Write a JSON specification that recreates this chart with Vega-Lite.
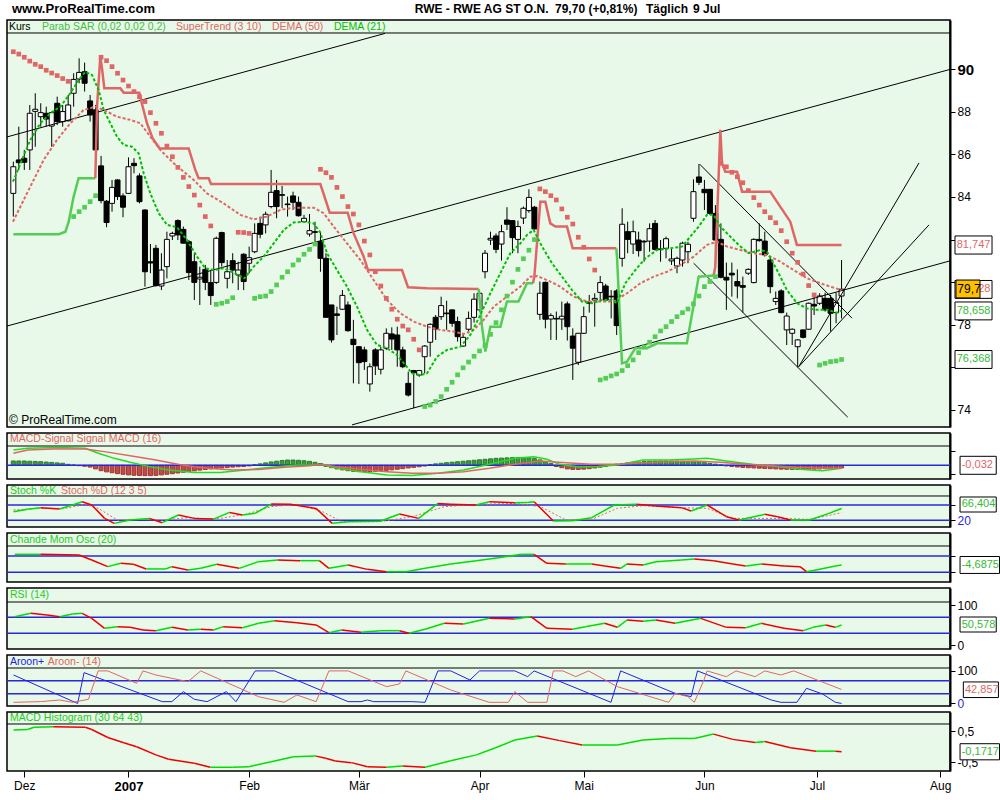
{
"$schema":"https://vega.github.io/schema/vega-lite/v6.json",
"padding":{"left":5,"top":2,"right":0,"bottom":0},
"bounds":"flush",
"spacing":6,
"background":"#ffffff",
"resolve":{"scale":{"color":"independent"}},
"config":{"view":{"fill":"#E9F9E9","stroke":"#000000","strokeWidth":1.5},"font":"Liberation Sans","axis":{"grid":false,"labelFont":"Liberation Sans","labelColor":"#000000","tickColor":"#000000","domainColor":"#000000","labelFontSize":12}},
"datasets":{
"c":[
{"i":-1,"o":84.17,"h":85.66,"l":83.08,"c":85.42},{"i":0,"o":85.74,"h":87.30,"l":85.27,"c":85.61},{"i":1,"o":85.82,"h":86.21,"l":85.27,"c":85.63},{"i":2,"o":86.21,"h":88.32,"l":85.27,"c":87.93},{"i":3,"o":88.02,"h":88.87,"l":86.36,"c":88.12},{"i":4,"o":87.77,"h":88.40,"l":87.30,"c":87.96},{"i":5,"o":87.93,"h":88.24,"l":87.30,"c":87.66},{"i":6,"o":87.33,"h":88.01,"l":86.36,"c":87.96},{"i":7,"o":88.40,"h":88.71,"l":87.38,"c":87.54},{"i":8,"o":87.54,"h":88.32,"l":87.30,"c":88.01},{"i":9,"o":87.58,"h":88.79,"l":87.54,"c":88.32},{"i":10,"o":88.87,"h":89.81,"l":88.24,"c":89.52},{"i":11,"o":89.54,"h":90.51,"l":89.34,"c":89.85},{"i":12,"o":89.88,"h":90.31,"l":88.95,"c":89.34},{"i":13,"o":88.51,"h":88.79,"l":87.54,"c":87.85},{"i":14,"o":88.09,"h":88.32,"l":86.21,"c":86.21},{"i":15,"o":85.46,"h":85.93,"l":83.70,"c":83.83},{"i":16,"o":83.80,"h":83.86,"l":82.58,"c":82.80},{"i":17,"o":83.70,"h":84.80,"l":83.31,"c":84.45},{"i":18,"o":84.80,"h":84.83,"l":83.86,"c":84.02},{"i":19,"o":84.05,"h":84.17,"l":83.05,"c":83.52},{"i":20,"o":84.17,"h":85.86,"l":84.14,"c":85.42},{"i":21,"o":85.58,"h":85.82,"l":85.11,"c":85.47},{"i":22,"o":84.99,"h":85.11,"l":83.70,"c":83.78},{"i":23,"o":83.39,"h":83.42,"l":79.79,"c":80.49},{"i":24,"o":80.96,"h":81.79,"l":80.42,"c":80.90},{"i":25,"o":81.59,"h":81.75,"l":79.79,"c":79.84},{"i":26,"o":79.82,"h":81.36,"l":79.63,"c":80.57},{"i":27,"o":80.73,"h":82.37,"l":80.18,"c":82.01},{"i":28,"o":82.17,"h":82.37,"l":81.98,"c":82.29},{"i":29,"o":82.89,"h":82.95,"l":81.98,"c":82.22},{"i":30,"o":82.48,"h":82.61,"l":81.83,"c":81.83},{"i":31,"o":81.90,"h":81.98,"l":80.10,"c":80.45},{"i":32,"o":80.96,"h":81.36,"l":79.16,"c":79.99},{"i":33,"o":80.15,"h":80.73,"l":78.93,"c":80.23},{"i":34,"o":80.60,"h":80.81,"l":79.63,"c":79.99},{"i":35,"o":79.98,"h":80.57,"l":78.93,"c":79.37},{"i":36,"o":79.99,"h":82.14,"l":79.92,"c":82.06},{"i":37,"o":82.33,"h":82.37,"l":80.73,"c":80.92},{"i":38,"o":80.18,"h":81.04,"l":79.71,"c":80.49},{"i":39,"o":81.01,"h":81.36,"l":79.95,"c":80.57},{"i":40,"o":80.34,"h":80.96,"l":79.63,"c":80.57},{"i":41,"o":81.31,"h":81.36,"l":79.63,"c":80.03},{"i":42,"o":80.89,"h":81.67,"l":80.42,"c":81.15},{"i":43,"o":81.43,"h":82.76,"l":81.36,"c":82.29},{"i":44,"o":82.76,"h":83.08,"l":82.06,"c":82.25},{"i":45,"o":82.69,"h":83.31,"l":82.29,"c":83.19},{"i":46,"o":83.55,"h":85.27,"l":83.47,"c":84.22},{"i":47,"o":84.30,"h":84.80,"l":83.00,"c":83.55},{"i":48,"o":84.11,"h":84.52,"l":83.47,"c":84.08},{"i":49,"o":83.67,"h":84.02,"l":83.08,"c":83.64},{"i":50,"o":84.05,"h":84.25,"l":83.39,"c":83.75},{"i":51,"o":83.75,"h":84.02,"l":83.08,"c":83.12},{"i":52,"o":82.84,"h":83.16,"l":82.80,"c":83.00},{"i":53,"o":82.26,"h":83.20,"l":82.14,"c":82.42},{"i":54,"o":82.37,"h":82.84,"l":81.90,"c":82.34},{"i":55,"o":81.90,"h":82.37,"l":80.49,"c":81.12},{"i":56,"o":81.12,"h":81.36,"l":78.35,"c":78.35},{"i":57,"o":78.93,"h":78.93,"l":77.16,"c":77.29},{"i":58,"o":78.51,"h":78.85,"l":77.52,"c":78.44},{"i":59,"o":78.73,"h":79.63,"l":78.70,"c":79.38},{"i":60,"o":78.93,"h":79.09,"l":77.68,"c":77.72},{"i":61,"o":77.32,"h":78.23,"l":75.25,"c":77.07},{"i":62,"o":76.97,"h":77.00,"l":75.22,"c":76.22},{"i":63,"o":76.82,"h":76.97,"l":75.88,"c":76.27},{"i":64,"o":75.22,"h":76.19,"l":74.86,"c":76.03},{"i":65,"o":76.82,"h":76.90,"l":75.64,"c":76.07},{"i":66,"o":75.91,"h":76.97,"l":75.67,"c":76.82},{"i":67,"o":76.90,"h":77.83,"l":76.82,"c":77.60},{"i":68,"o":77.57,"h":77.88,"l":76.82,"c":77.33},{"i":69,"o":77.52,"h":77.91,"l":76.03,"c":76.82},{"i":70,"o":76.82,"h":76.97,"l":75.96,"c":76.03},{"i":71,"o":75.25,"h":75.80,"l":74.63,"c":74.70},{"i":72,"o":75.85,"h":75.88,"l":74.08,"c":75.75},{"i":73,"o":75.64,"h":75.88,"l":75.56,"c":75.85},{"i":74,"o":76.50,"h":77.05,"l":75.72,"c":77.00},
{"i":75,"o":77.18,"h":78.07,"l":76.50,"c":78.02},{"i":76,"o":78.35,"h":78.46,"l":77.29,"c":77.80},{"i":77,"o":78.38,"h":79.32,"l":78.23,"c":78.90},{"i":78,"o":78.55,"h":79.13,"l":77.76,"c":78.52},{"i":79,"o":78.70,"h":78.70,"l":77.91,"c":78.07},{"i":80,"o":78.15,"h":78.38,"l":77.21,"c":77.44},{"i":81,"o":77.00,"h":77.60,"l":76.97,"c":77.41},{"i":82,"o":77.79,"h":78.62,"l":77.60,"c":78.30},{"i":83,"o":78.35,"h":79.48,"l":78.10,"c":79.20},{"i":84,"o":78.70,"h":79.67,"l":78.62,"c":79.48},{"i":85,"o":80.49,"h":81.51,"l":80.18,"c":81.36},{"i":86,"o":81.98,"h":82.37,"l":81.75,"c":82.06},{"i":87,"o":82.17,"h":82.29,"l":81.36,"c":81.54},{"i":88,"o":81.79,"h":82.69,"l":81.01,"c":82.37},{"i":89,"o":82.92,"h":83.52,"l":82.45,"c":82.72},{"i":90,"o":82.89,"h":82.92,"l":81.36,"c":82.09},{"i":91,"o":82.01,"h":82.89,"l":81.36,"c":82.61},{"i":92,"o":83.01,"h":83.55,"l":82.73,"c":83.47},{"i":93,"o":83.36,"h":84.36,"l":83.26,"c":83.98},{"i":94,"o":83.52,"h":83.58,"l":82.45,"c":82.50},{"i":95,"o":78.49,"h":80.03,"l":78.23,"c":79.48},{"i":96,"o":79.99,"h":80.03,"l":77.83,"c":78.26},{"i":97,"o":78.27,"h":78.54,"l":77.29,"c":78.43},{"i":98,"o":78.30,"h":78.62,"l":77.29,"c":78.27},{"i":99,"o":78.27,"h":79.09,"l":77.76,"c":78.40},{"i":100,"o":78.98,"h":79.09,"l":77.26,"c":77.91},{"i":101,"o":77.47,"h":77.83,"l":75.41,"c":76.90},{"i":102,"o":76.24,"h":77.60,"l":76.11,"c":77.60},{"i":103,"o":77.60,"h":78.85,"l":77.57,"c":78.38},{"i":104,"o":79.07,"h":79.40,"l":78.57,"c":79.01},{"i":105,"o":79.16,"h":79.48,"l":77.91,"c":79.24},{"i":106,"o":79.52,"h":80.29,"l":79.16,"c":79.98},{"i":107,"o":79.82,"h":79.92,"l":79.09,"c":79.16},{"i":108,"o":79.34,"h":79.63,"l":78.30,"c":79.31},{"i":109,"o":79.59,"h":79.67,"l":77.52,"c":77.96},{"i":110,"o":81.12,"h":83.47,"l":80.73,"c":82.72},{"i":111,"o":82.37,"h":82.84,"l":81.36,"c":82.01},{"i":112,"o":81.79,"h":82.89,"l":81.32,"c":82.37},{"i":113,"o":81.98,"h":82.37,"l":81.20,"c":81.48},{"i":114,"o":81.92,"h":81.98,"l":80.96,"c":81.89},{"i":115,"o":81.93,"h":82.76,"l":81.43,"c":82.51},{"i":116,"o":82.76,"h":82.92,"l":81.48,"c":81.54},{"i":117,"o":81.56,"h":81.98,"l":80.96,"c":81.53},{"i":118,"o":81.59,"h":82.14,"l":81.12,"c":82.04},{"i":119,"o":81.00,"h":81.59,"l":80.81,"c":81.09},{"i":120,"o":80.76,"h":81.20,"l":80.42,"c":81.12},{"i":121,"o":81.04,"h":81.90,"l":80.73,"c":81.83},{"i":122,"o":81.43,"h":81.90,"l":80.89,"c":81.78},{"i":123,"o":83.00,"h":84.83,"l":82.84,"c":84.25},{"i":124,"o":84.94,"h":85.55,"l":84.56,"c":84.69},{"i":125,"o":84.36,"h":84.80,"l":83.39,"c":84.20},{"i":126,"o":84.36,"h":84.36,"l":83.16,"c":83.23},{"i":127,"o":83.23,"h":83.62,"l":80.70,"c":81.98},{"i":128,"o":82.01,"h":82.76,"l":80.18,"c":80.23},{"i":129,"o":80.23,"h":80.92,"l":78.70,"c":80.10},{"i":130,"o":80.42,"h":80.92,"l":79.32,"c":80.34},{"i":131,"o":80.03,"h":80.60,"l":79.24,"c":79.82},{"i":132,"o":79.84,"h":80.26,"l":78.57,"c":79.76},{"i":133,"o":80.42,"h":80.65,"l":80.34,"c":80.60},{"i":134,"o":79.98,"h":82.06,"l":79.95,"c":82.01},{"i":135,"o":82.01,"h":82.76,"l":81.90,"c":81.95},{"i":136,"o":81.93,"h":82.37,"l":81.20,"c":81.28},{"i":137,"o":81.04,"h":81.23,"l":79.48,"c":79.79},{"i":138,"o":79.09,"h":79.56,"l":78.93,"c":79.24},{"i":139,"o":79.59,"h":79.67,"l":78.54,"c":78.57},{"i":140,"o":77.76,"h":78.57,"l":77.05,"c":78.41},{"i":141,"o":77.60,"h":77.83,"l":77.05,"c":77.79},{"i":142,"o":76.97,"h":77.32,"l":76.00,"c":77.29},{"i":143,"o":77.76,"h":77.76,"l":77.36,"c":77.41},{"i":144,"o":77.79,"h":79.04,"l":77.76,"c":79.01},{"i":145,"o":78.96,"h":79.32,"l":78.46,"c":78.88},{"i":146,"o":79.01,"h":79.48,"l":78.93,"c":79.35},{"i":147,"o":79.24,"h":79.51,"l":78.62,"c":78.70},{"i":148,"o":79.24,"h":79.40,"l":77.68,"c":78.54},{"i":149,"o":78.57,"h":79.51,"l":78.07,"c":79.04},{"i":150,"o":79.35,"h":81.04,"l":78.30,"c":79.67}],
"sar":[
{"i":-1,"v":90.82,"t":"dn"},{"i":0,"v":90.71,"t":"dn"},{"i":1,"v":90.56,"t":"dn"},{"i":2,"v":90.38,"t":"dn"},{"i":3,"v":90.23,"t":"dn"},{"i":4,"v":90.12,"t":"dn"},{"i":5,"v":89.95,"t":"dn"},{"i":6,"v":89.82,"t":"dn"},{"i":7,"v":89.70,"t":"dn"},{"i":8,"v":89.56,"t":"dn"},{"i":9,"v":89.43,"t":"dn"},
{"i":10,"v":83.08,"t":"up"},{"i":11,"v":83.31,"t":"up"},{"i":12,"v":83.52,"t":"up"},{"i":13,"v":83.78,"t":"up"},{"i":14,"v":84.06,"t":"up"},
{"i":15,"v":90.56,"t":"dn"},{"i":16,"v":90.40,"t":"dn"},{"i":17,"v":90.12,"t":"dn"},{"i":18,"v":89.81,"t":"dn"},{"i":19,"v":89.49,"t":"dn"},{"i":20,"v":89.21,"t":"dn"},{"i":21,"v":88.95,"t":"dn"},{"i":22,"v":88.71,"t":"dn"},{"i":23,"v":88.48,"t":"dn"},{"i":24,"v":87.96,"t":"dn"},{"i":25,"v":87.46,"t":"dn"},{"i":26,"v":86.99,"t":"dn"},{"i":27,"v":86.39,"t":"dn"},{"i":28,"v":85.89,"t":"dn"},{"i":29,"v":85.39,"t":"dn"},{"i":30,"v":84.92,"t":"dn"},{"i":31,"v":84.49,"t":"dn"},{"i":32,"v":84.09,"t":"dn"},{"i":33,"v":83.62,"t":"dn"},{"i":34,"v":83.08,"t":"dn"},{"i":35,"v":82.64,"t":"dn"},
{"i":36,"v":78.96,"t":"up"},{"i":37,"v":79.01,"t":"up"},{"i":38,"v":79.09,"t":"up"},{"i":39,"v":79.27,"t":"up"},
{"i":40,"v":82.34,"t":"dn"},{"i":41,"v":82.33,"t":"dn"},{"i":42,"v":82.29,"t":"dn"},
{"i":43,"v":79.24,"t":"up"},{"i":44,"v":79.32,"t":"up"},{"i":45,"v":79.35,"t":"up"},{"i":46,"v":79.56,"t":"up"},{"i":47,"v":79.87,"t":"up"},{"i":48,"v":80.23,"t":"up"},{"i":49,"v":80.49,"t":"up"},{"i":50,"v":80.81,"t":"up"},{"i":51,"v":81.04,"t":"up"},{"i":52,"v":81.31,"t":"up"},{"i":53,"v":81.54,"t":"up"},{"i":54,"v":81.79,"t":"up"},
{"i":55,"v":85.30,"t":"dn"},{"i":56,"v":85.14,"t":"dn"},{"i":57,"v":84.92,"t":"dn"},{"i":58,"v":84.45,"t":"dn"},{"i":59,"v":84.02,"t":"dn"},{"i":60,"v":83.55,"t":"dn"},{"i":61,"v":83.20,"t":"dn"},{"i":62,"v":82.69,"t":"dn"},{"i":63,"v":81.93,"t":"dn"},{"i":64,"v":81.28,"t":"dn"},{"i":65,"v":80.49,"t":"dn"},{"i":66,"v":79.82,"t":"dn"},{"i":67,"v":79.24,"t":"dn"},{"i":68,"v":78.73,"t":"dn"},{"i":69,"v":78.26,"t":"dn"},{"i":70,"v":77.94,"t":"dn"},{"i":71,"v":77.76,"t":"dn"},{"i":72,"v":77.32,"t":"dn"},{"i":73,"v":76.82,"t":"dn"},
{"i":74,"v":74.16,"t":"up"},{"i":75,"v":74.23,"t":"up"},{"i":76,"v":74.40,"t":"up"},{"i":77,"v":74.63,"t":"up"},{"i":78,"v":74.97,"t":"up"},{"i":79,"v":75.30,"t":"up"},{"i":80,"v":75.65,"t":"up"},{"i":81,"v":75.98,"t":"up"},{"i":82,"v":76.25,"t":"up"},{"i":83,"v":76.52,"t":"up"},{"i":84,"v":76.77,"t":"up"},{"i":85,"v":77.02,"t":"up"},{"i":86,"v":77.55,"t":"up"},{"i":87,"v":78.10,"t":"up"},{"i":88,"v":78.70,"t":"up"},{"i":89,"v":79.35,"t":"up"},{"i":90,"v":80.00,"t":"up"},{"i":91,"v":80.60,"t":"up"},{"i":92,"v":81.10,"t":"up"},{"i":93,"v":81.50,"t":"up"},{"i":94,"v":82.00,"t":"up"},
{"i":95,"v":84.38,"t":"dn"},{"i":96,"v":84.25,"t":"dn"},{"i":97,"v":84.06,"t":"dn"},{"i":98,"v":83.86,"t":"dn"},{"i":99,"v":83.44,"t":"dn"},{"i":100,"v":83.05,"t":"dn"},{"i":101,"v":82.73,"t":"dn"},{"i":102,"v":82.11,"t":"dn"},{"i":103,"v":81.64,"t":"dn"},{"i":104,"v":81.09,"t":"dn"},{"i":105,"v":80.57,"t":"dn"},
{"i":106,"v":75.41,"t":"up"},{"i":107,"v":75.49,"t":"up"},{"i":108,"v":75.60,"t":"up"},{"i":109,"v":75.69,"t":"up"},{"i":110,"v":75.85,"t":"up"},{"i":111,"v":76.08,"t":"up"},{"i":112,"v":76.35,"t":"up"},{"i":113,"v":76.69,"t":"up"},{"i":114,"v":76.96,"t":"up"},{"i":115,"v":77.18,"t":"up"},{"i":116,"v":77.44,"t":"up"},{"i":117,"v":77.71,"t":"up"},{"i":118,"v":77.91,"t":"up"},{"i":119,"v":78.15,"t":"up"},{"i":120,"v":78.38,"t":"up"},{"i":121,"v":78.57,"t":"up"},{"i":122,"v":78.74,"t":"up"},{"i":123,"v":78.98,"t":"up"},{"i":124,"v":79.35,"t":"up"},{"i":125,"v":79.79,"t":"up"},{"i":126,"v":80.03,"t":"up"},{"i":127,"v":80.26,"t":"up"},
{"i":128,"v":85.58,"t":"dn"},{"i":129,"v":85.42,"t":"dn"},{"i":130,"v":85.16,"t":"dn"},{"i":131,"v":84.95,"t":"dn"},{"i":132,"v":84.67,"t":"dn"},{"i":133,"v":84.30,"t":"dn"},{"i":134,"v":83.97,"t":"dn"},{"i":135,"v":83.62,"t":"dn"},{"i":136,"v":83.31,"t":"dn"},{"i":137,"v":83.03,"t":"dn"},{"i":138,"v":82.79,"t":"dn"},{"i":139,"v":82.42,"t":"dn"},{"i":140,"v":81.90,"t":"dn"},{"i":141,"v":81.36,"t":"dn"},{"i":142,"v":80.93,"t":"dn"},{"i":143,"v":80.38,"t":"dn"},{"i":144,"v":79.84,"t":"dn"},{"i":145,"v":79.40,"t":"dn"},
{"i":146,"v":76.11,"t":"up"},{"i":147,"v":76.19,"t":"up"},{"i":148,"v":76.27,"t":"up"},{"i":149,"v":76.30,"t":"up"},{"i":150,"v":76.37,"t":"up"}],
"st":[
{"i":-1,"v":82.25,"t":"up","s":1},{"i":7.3,"v":82.25,"t":"up","s":1},{"i":8.5,"v":82.37,"t":"up","s":1},{"i":9.1,"v":82.84,"t":"up","s":1},{"i":10,"v":84.02,"t":"up","s":1},{"i":10.9,"v":84.88,"t":"up","s":1},{"i":13.95,"v":84.88,"t":"up","s":1},
{"i":13.95,"v":84.88,"t":"dn","s":2},{"i":14.26,"v":88.24,"t":"dn","s":2},{"i":14.86,"v":90.59,"t":"dn","s":2},{"i":15.17,"v":90.04,"t":"dn","s":2},{"i":15.59,"v":89.10,"t":"dn","s":2},{"i":18.51,"v":89.10,"t":"dn","s":2},{"i":19.12,"v":88.90,"t":"dn","s":2},{"i":21.97,"v":88.90,"t":"dn","s":2},{"i":22.34,"v":88.48,"t":"dn","s":2},{"i":23.37,"v":87.46,"t":"dn","s":2},{"i":24.41,"v":86.75,"t":"dn","s":2},{"i":25.68,"v":86.28,"t":"dn","s":2},{"i":30.97,"v":86.28,"t":"dn","s":2},{"i":32.18,"v":85.27,"t":"dn","s":2},{"i":32.79,"v":84.88,"t":"dn","s":2},{"i":34.62,"v":84.88,"t":"dn","s":2},{"i":35.04,"v":84.61,"t":"dn","s":2},{"i":54.97,"v":84.61,"t":"dn","s":2},{"i":55.58,"v":84.14,"t":"dn","s":2},{"i":56.68,"v":83.26,"t":"dn","s":2},{"i":59.96,"v":83.26,"t":"dn","s":2},{"i":61.05,"v":82.29,"t":"dn","s":2},{"i":62.87,"v":81.20,"t":"dn","s":2},{"i":63.66,"v":80.57,"t":"dn","s":2},{"i":69.86,"v":80.57,"t":"dn","s":2},{"i":70.96,"v":79.76,"t":"dn","s":2},{"i":74.42,"v":79.71,"t":"dn","s":2},{"i":83.84,"v":79.68,"t":"dn","s":2},
{"i":83.84,"v":79.68,"t":"up","s":3},{"i":84.45,"v":77.91,"t":"up","s":3},{"i":85.06,"v":76.74,"t":"up","s":3},{"i":85.97,"v":77.91,"t":"up","s":3},{"i":87.8,"v":77.91,"t":"up","s":3},{"i":89.0,"v":79.09,"t":"up","s":3},{"i":91.1,"v":79.09,"t":"up","s":3},{"i":92.65,"v":79.95,"t":"up","s":3},{"i":93.74,"v":79.95,"t":"up","s":3},
{"i":93.74,"v":79.95,"t":"dn","s":4},{"i":93.99,"v":80.26,"t":"dn","s":4},{"i":95.08,"v":83.78,"t":"dn","s":4},{"i":95.99,"v":83.78,"t":"dn","s":4},{"i":96.9,"v":82.76,"t":"dn","s":4},{"i":97.82,"v":82.61,"t":"dn","s":4},{"i":99.94,"v":82.61,"t":"dn","s":4},{"i":100.98,"v":81.59,"t":"dn","s":4},{"i":108.94,"v":81.59,"t":"dn","s":4},
{"i":108.94,"v":81.59,"t":"up","s":5},{"i":109.06,"v":81.2,"t":"up","s":5},{"i":109.97,"v":76.19,"t":"up","s":5},{"i":110.88,"v":76.27,"t":"up","s":5},{"i":112.4,"v":76.9,"t":"up","s":5},{"i":114.5,"v":76.9,"t":"up","s":5},{"i":116.4,"v":77.13,"t":"up","s":5},{"i":121.8,"v":77.13,"t":"up","s":5},{"i":123.95,"v":80.26,"t":"up","s":5},{"i":126.68,"v":80.31,"t":"up","s":5},
{"i":126.68,"v":80.31,"t":"dn","s":6},{"i":126.98,"v":80.73,"t":"dn","s":6},{"i":127.9,"v":87.15,"t":"dn","s":6},{"i":128.2,"v":85.58,"t":"dn","s":6},{"i":128.8,"v":85.19,"t":"dn","s":6},{"i":130.95,"v":85.19,"t":"dn","s":6},{"i":131.86,"v":84.25,"t":"dn","s":6},{"i":137.0,"v":84.25,"t":"dn","s":6},{"i":138.2,"v":83.78,"t":"dn","s":6},{"i":140.04,"v":83.08,"t":"dn","s":6},{"i":140.65,"v":82.84,"t":"dn","s":6},{"i":141.86,"v":81.75,"t":"dn","s":6},{"i":150,"v":81.75,"t":"dn","s":6}],
"d50":[
{"i":-1.06,"v":82.84},{"i":0.89,"v":83.86},{"i":2.71,"v":84.80},{"i":4.53,"v":85.74},{"i":6.96,"v":86.68},{"i":9.39,"v":87.46},{"i":11.83,"v":88.09},{"i":13.95,"v":88.24},{"i":15.47,"v":88.09},{"i":17.9,"v":87.77},{"i":20.33,"v":87.62},{"i":22.16,"v":87.46},{"i":23.98,"v":86.83},{"i":25.8,"v":86.21},{"i":28.24,"v":85.58},{"i":31.88,"v":84.80},{"i":34.31,"v":84.17},{"i":37.35,"v":83.70},{"i":40.39,"v":83.16},{"i":42.82,"v":82.95},{"i":45.25,"v":83.08},{"i":47.68,"v":83.39},{"i":50.11,"v":83.50},{"i":53.76,"v":83.50},{"i":55.58,"v":83.24},{"i":57.41,"v":82.61},{"i":59.84,"v":81.82},{"i":62.27,"v":81.04},{"i":64.7,"v":80.10},{"i":67.13,"v":79.16},{"i":69.56,"v":78.54},{"i":71.99,"v":78.15},{"i":74.42,"v":77.91},{"i":76.85,"v":77.76},{"i":79.28,"v":77.68},{"i":81.11,"v":77.57},{"i":82.93,"v":77.76},{"i":84.75,"v":78.23},{"i":86.58,"v":78.85},{"i":89.01,"v":79.32},{"i":91.44,"v":79.79},{"i":93.26,"v":80.26},{"i":94.48,"v":80.29},{"i":96.91,"v":80.03},{"i":98.73,"v":79.79},{"i":101.16,"v":79.32},{"i":103.59,"v":79.09},{"i":106.02,"v":79.09},{"i":108.45,"v":79.09},{"i":110.88,"v":79.48},{"i":113.31,"v":79.95},{"i":115.75,"v":80.26},{"i":118.18,"v":80.49},{"i":120.61,"v":80.81},{"i":123.04,"v":81.20},{"i":125.47,"v":81.75},{"i":127.29,"v":81.90},{"i":129.12,"v":81.67},{"i":131.55,"v":81.51},{"i":133.98,"v":81.36},{"i":136.41,"v":81.28},{"i":138.84,"v":80.96},{"i":141.27,"v":80.57},{"i":143.7,"v":80.18},{"i":146.13,"v":79.95},{"i":147.95,"v":79.79},{"i":150,"v":79.63}],
"d21":[
{"i":-1.06,"v":84.72},{"i":0.58,"v":85.74},{"i":2.1,"v":86.68},{"i":3.93,"v":87.46},{"i":5.75,"v":87.93},{"i":7.57,"v":88.24},{"i":9.39,"v":88.87},{"i":10.91,"v":89.49},{"i":12.13,"v":89.88},{"i":13.35,"v":89.73},{"i":14.56,"v":89.02},{"i":15.47,"v":88.09},{"i":16.69,"v":87.46},{"i":17.9,"v":86.83},{"i":19.12,"v":86.44},{"i":20.64,"v":86.36},{"i":21.85,"v":86.05},{"i":22.77,"v":85.11},{"i":23.98,"v":84.17},{"i":25.5,"v":83.24},{"i":27.02,"v":82.69},{"i":28.84,"v":82.58},{"i":30.67,"v":81.98},{"i":32.49,"v":81.20},{"i":34.01,"v":80.65},{"i":35.53,"v":80.57},{"i":37.35,"v":80.65},{"i":39.17,"v":80.45},{"i":41.12,"v":80.18},{"i":42.82,"v":80.73},{"i":44.64,"v":81.20},{"i":46.47,"v":81.82},{"i":48.29,"v":82.45},{"i":50.11,"v":82.80},{"i":51.94,"v":82.84},{"i":53.76,"v":82.76},{"i":54.97,"v":82.33},{"i":56.19,"v":81.36},{"i":58.01,"v":80.57},{"i":59.84,"v":79.79},{"i":61.66,"v":78.85},{"i":63.48,"v":77.76},{"i":65.31,"v":77.05},{"i":67.13,"v":76.90},{"i":68.95,"v":76.58},{"i":70.47,"v":76.11},{"i":71.69,"v":75.72},{"i":73.2,"v":75.64},{"i":74.42,"v":75.72},{"i":76.24,"v":76.50},{"i":78.06,"v":76.82},{"i":80.5,"v":76.97},{"i":82.32,"v":77.52},{"i":84.14,"v":78.46},{"i":85.97,"v":79.48},{"i":87.79,"v":80.42},{"i":89.61,"v":81.36},{"i":91.44,"v":81.82},{"i":92.65,"v":82.22},{"i":93.87,"v":82.45},{"i":95.39,"v":81.67},{"i":97.21,"v":80.89},{"i":99.03,"v":80.26},{"i":100.86,"v":79.63},{"i":102.68,"v":79.09},{"i":104.5,"v":79.01},{"i":106.33,"v":79.16},{"i":108.15,"v":79.16},{"i":109.06,"v":79.01},{"i":110.58,"v":79.95},{"i":112.4,"v":80.57},{"i":114.23,"v":81.12},{"i":116.35,"v":81.51},{"i":118.78,"v":81.59},{"i":120.91,"v":81.67},{"i":122.43,"v":82.14},{"i":123.95,"v":82.61},{"i":125.47,"v":83.16},{"i":126.69,"v":83.16},{"i":127.9,"v":82.61},{"i":129.72,"v":82.14},{"i":131.24,"v":81.75},{"i":133.07,"v":81.36},{"i":135.19,"v":81.51},{"i":136.41,"v":81.43},{"i":138.23,"v":80.57},{"i":140.04,"v":79.63},{"i":141.88,"v":79.01},{"i":143.7,"v":78.77},{"i":145.53,"v":78.70},{"i":147.35,"v":78.70},{"i":149.17,"v":78.57},{"i":150,"v":78.66}],
"tl":[
{"i":-2.15,"v":86.82,"i2":66.76,"v2":91.68},{"i":-2.15,"v":77.94,"i2":169.77,"v2":89.99},{"i":60.75,"v":73.30,"i2":169.77,"v2":81.00},{"i":124.14,"v":85.54,"i2":151.91,"v2":78.31},{"i":123.04,"v":80.89,"i2":151.12,"v2":73.66},{"i":142.19,"v":76.03,"i2":164.12,"v2":85.60},{"i":142.19,"v":76.03,"i2":165.94,"v2":82.69}],
"hist":[
{"i":-1,"v":0.36},{"i":0,"v":0.36},{"i":1,"v":0.36},{"i":2,"v":0.34},{"i":3,"v":0.32},{"i":4,"v":0.30},{"i":5,"v":0.27},{"i":6,"v":0.24},{"i":7,"v":0.20},{"i":8,"v":0.17},{"i":9,"v":0.08},{"i":10,"v":0.03},{"i":11,"v":-0.03},{"i":12,"v":-0.08},{"i":13,"v":-0.15},{"i":14,"v":-0.3},{"i":15,"v":-0.45},{"i":16,"v":-0.55},{"i":17,"v":-0.62},{"i":18,"v":-0.7},{"i":19,"v":-0.75},{"i":20,"v":-0.8},{"i":21,"v":-0.83},{"i":22,"v":-0.85},{"i":23,"v":-0.86},{"i":24,"v":-0.86},{"i":25,"v":-0.84},{"i":26,"v":-0.8},{"i":27,"v":-0.75},{"i":28,"v":-0.7},{"i":29,"v":-0.64},{"i":30,"v":-0.58},{"i":31,"v":-0.52},{"i":32,"v":-0.46},{"i":33,"v":-0.4},{"i":34,"v":-0.35},{"i":35,"v":-0.3},{"i":36,"v":-0.26},{"i":37,"v":-0.22},{"i":38,"v":-0.18},{"i":39,"v":-0.15},{"i":40,"v":-0.12},{"i":41,"v":-0.1},{"i":42,"v":-0.05},
{"i":43,"v":0.05},{"i":44,"v":0.12},{"i":45,"v":0.2},{"i":46,"v":0.28},{"i":47,"v":0.34},{"i":48,"v":0.4},{"i":49,"v":0.44},{"i":50,"v":0.44},{"i":51,"v":0.42},{"i":52,"v":0.38},{"i":53,"v":0.33},{"i":54,"v":0.25},{"i":55,"v":0.15},
{"i":56,"v":-0.1},{"i":57,"v":-0.2},{"i":58,"v":-0.3},{"i":59,"v":-0.38},{"i":60,"v":-0.45},{"i":61,"v":-0.5},{"i":62,"v":-0.53},{"i":63,"v":-0.53},{"i":64,"v":-0.53},{"i":65,"v":-0.5},{"i":66,"v":-0.46},{"i":67,"v":-0.42},{"i":68,"v":-0.38},{"i":69,"v":-0.33},{"i":70,"v":-0.28},{"i":71,"v":-0.22},{"i":72,"v":-0.17},{"i":73,"v":-0.12},{"i":74,"v":-0.06},
{"i":75,"v":0.06},{"i":76,"v":0.12},{"i":77,"v":0.17},{"i":78,"v":0.22},{"i":79,"v":0.26},{"i":80,"v":0.3},{"i":81,"v":0.34},{"i":82,"v":0.38},{"i":83,"v":0.42},{"i":84,"v":0.46},{"i":85,"v":0.5},{"i":86,"v":0.54},{"i":87,"v":0.58},{"i":88,"v":0.6},{"i":89,"v":0.62},{"i":90,"v":0.64},{"i":91,"v":0.64},{"i":92,"v":0.64},{"i":93,"v":0.62},{"i":94,"v":0.56},{"i":95,"v":0.45},{"i":96,"v":0.3},{"i":97,"v":0.15},
{"i":98,"v":-0.1},{"i":99,"v":-0.2},{"i":100,"v":-0.3},{"i":101,"v":-0.34},{"i":102,"v":-0.34},{"i":103,"v":-0.32},{"i":104,"v":-0.28},{"i":105,"v":-0.22},{"i":106,"v":-0.16},{"i":107,"v":-0.1},
{"i":108,"v":0.05},{"i":109,"v":0.1},{"i":110,"v":0.15},{"i":111,"v":0.2},{"i":112,"v":0.24},{"i":113,"v":0.28},{"i":114,"v":0.31},{"i":115,"v":0.33},{"i":116,"v":0.35},{"i":117,"v":0.36},{"i":118,"v":0.36},{"i":119,"v":0.36},{"i":120,"v":0.35},{"i":121,"v":0.34},{"i":122,"v":0.32},{"i":123,"v":0.3},{"i":124,"v":0.27},{"i":125,"v":0.22},{"i":126,"v":0.16},{"i":127,"v":0.1},{"i":128,"v":0.04},
{"i":129,"v":-0.05},{"i":130,"v":-0.1},{"i":131,"v":-0.14},{"i":132,"v":-0.18},{"i":133,"v":-0.2},{"i":134,"v":-0.22},{"i":135,"v":-0.24},{"i":136,"v":-0.26},{"i":137,"v":-0.28},{"i":138,"v":-0.3},{"i":139,"v":-0.32},{"i":140,"v":-0.33},{"i":141,"v":-0.34},{"i":142,"v":-0.34},{"i":143,"v":-0.34},{"i":144,"v":-0.33},{"i":145,"v":-0.32},{"i":146,"v":-0.3},{"i":147,"v":-0.28},{"i":148,"v":-0.26},{"i":149,"v":-0.24},{"i":150,"v":-0.22}],
"macd":[
{"i":-0.97,"v":1.28,"k":"M"},{"i":1.61,"v":1.42,"k":"M"},{"i":5.12,"v":1.47,"k":"M"},{"i":8.62,"v":1.47,"k":"M"},{"i":12.1,"v":1.42,"k":"M"},{"i":14.5,"v":1.0,"k":"M"},{"i":17.4,"v":0.58,"k":"M"},{"i":20.3,"v":0.25,"k":"M"},{"i":23.8,"v":-0.11,"k":"M"},{"i":27.3,"v":-0.39,"k":"M"},{"i":32.0,"v":-0.61,"k":"M"},{"i":36.7,"v":-0.61,"k":"M"},{"i":41.3,"v":-0.39,"k":"M"},{"i":46.0,"v":-0.17,"k":"M"},{"i":50.7,"v":0.02,"k":"M"},{"i":55.4,"v":0.02,"k":"M"},{"i":57.7,"v":-0.2,"k":"M"},{"i":62.4,"v":-0.53,"k":"M"},{"i":67.1,"v":-0.81,"k":"M"},{"i":71.7,"v":-0.86,"k":"M"},{"i":76.4,"v":-0.67,"k":"M"},{"i":81.1,"v":-0.39,"k":"M"},{"i":85.8,"v":0.08,"k":"M"},{"i":90.4,"v":0.58,"k":"M"},{"i":93.9,"v":0.72,"k":"M"},{"i":96.3,"v":0.5,"k":"M"},{"i":98.6,"v":0.08,"k":"M"},{"i":102.1,"v":-0.14,"k":"M"},{"i":105.6,"v":-0.11,"k":"M"},{"i":109.1,"v":0.02,"k":"M"},{"i":113.8,"v":0.44,"k":"M"},{"i":118.5,"v":0.44,"k":"M"},{"i":122.0,"v":0.5,"k":"M"},{"i":125.5,"v":0.58,"k":"M"},{"i":129.0,"v":0.36,"k":"M"},{"i":133.7,"v":0.08,"k":"M"},{"i":138.3,"v":-0.11,"k":"M"},{"i":143.0,"v":-0.34,"k":"M"},{"i":146.5,"v":-0.45,"k":"M"},{"i":150,"v":-0.25,"k":"M"},
{"i":-0.97,"v":1.0,"k":"S"},{"i":1.61,"v":1.28,"k":"S"},{"i":6.2,"v":1.36,"k":"S"},{"i":12.1,"v":1.36,"k":"S"},{"i":15.6,"v":1.14,"k":"S"},{"i":20.3,"v":0.8,"k":"S"},{"i":25.0,"v":0.44,"k":"S"},{"i":29.7,"v":0.02,"k":"S"},{"i":34.3,"v":-0.25,"k":"S"},{"i":39.0,"v":-0.39,"k":"S"},{"i":43.7,"v":-0.34,"k":"S"},{"i":48.4,"v":-0.17,"k":"S"},{"i":53.0,"v":-0.03,"k":"S"},{"i":55.4,"v":0.08,"k":"S"},{"i":57.7,"v":-0.11,"k":"S"},{"i":62.4,"v":-0.34,"k":"S"},{"i":67.1,"v":-0.53,"k":"S"},{"i":71.7,"v":-0.67,"k":"S"},{"i":76.4,"v":-0.67,"k":"S"},{"i":81.1,"v":-0.53,"k":"S"},{"i":85.8,"v":-0.25,"k":"S"},{"i":90.4,"v":0.08,"k":"S"},{"i":95.1,"v":0.36,"k":"S"},{"i":99.8,"v":0.22,"k":"S"},{"i":104.4,"v":0.08,"k":"S"},{"i":109.1,"v":0.08,"k":"S"},{"i":113.8,"v":0.22,"k":"S"},{"i":118.5,"v":0.3,"k":"S"},{"i":123.2,"v":0.36,"k":"S"},{"i":127.8,"v":0.25,"k":"S"},{"i":132.5,"v":0.08,"k":"S"},{"i":137.2,"v":-0.03,"k":"S"},{"i":141.9,"v":-0.17,"k":"S"},{"i":146.5,"v":-0.25,"k":"S"},{"i":150,"v":-0.25,"k":"S"}],
"sk":[
{"i":-0.96,"v":53.8},{"i":1.61,"v":63},{"i":3.95,"v":69.6},{"i":7.45,"v":64.3},{"i":9.79,"v":80},{"i":11.55,"v":93},{"i":13.3,"v":80},{"i":15.64,"v":27.5},{"i":17.39,"v":8},{"i":20.3,"v":21},{"i":23.82,"v":27.5},{"i":26.15,"v":10.6},{"i":29.08,"v":40.7},{"i":32.0,"v":27.5},{"i":35.5,"v":24.8},{"i":38.43,"v":51},{"i":40.76,"v":40.7},{"i":43.1,"v":47.2},{"i":46.02,"v":83.7},{"i":49.53,"v":82.5},{"i":54.2,"v":66.7},{"i":57.13,"v":8},{"i":60.05,"v":14.6},{"i":65.89,"v":16},{"i":69.4,"v":44.8},{"i":72.9,"v":27.5},{"i":76.41,"v":86.3},{"i":78.75,"v":82.5},{"i":83.42,"v":80},{"i":85.76,"v":93},{"i":90.43,"v":89},{"i":92.77,"v":90},{"i":93.94,"v":93},{"i":97.45,"v":17.3},{"i":100.95,"v":18.6},{"i":104.46,"v":30.3},{"i":108.55,"v":80},{"i":112.64,"v":82.5},{"i":116.15,"v":76},{"i":120.82,"v":69.6},{"i":122.57,"v":56.5},{"i":125.49,"v":80},{"i":129.0,"v":34.2},{"i":131.34,"v":21},{"i":136.01,"v":43.4},{"i":138.35,"v":34.2},{"i":140.69,"v":21},{"i":144.19,"v":21},{"i":147.7,"v":47.2},{"i":150,"v":66.4}],
"sd":[
{"i":-0.96,"v":60.4},{"i":3.95,"v":67},{"i":8.62,"v":67},{"i":12.13,"v":82.5},{"i":14.47,"v":67},{"i":17.97,"v":21},{"i":21.48,"v":23.6},{"i":26.15,"v":21},{"i":30.83,"v":30.3},{"i":35.5,"v":23.6},{"i":41.35,"v":43.4},{"i":46.02,"v":73.4},{"i":50.7,"v":82.5},{"i":55.37,"v":53.8},{"i":58.88,"v":14.6},{"i":65.89,"v":14.6},{"i":71.73,"v":34.2},{"i":77.58,"v":73.4},{"i":83.42,"v":82.5},{"i":90.43,"v":86.3},{"i":95.11,"v":73.4},{"i":99.78,"v":21},{"i":104.46,"v":23.6},{"i":109.13,"v":67},{"i":113.81,"v":77.3},{"i":120.82,"v":69.6},{"i":125.49,"v":67},{"i":130.17,"v":27.5},{"i":134.84,"v":27.5},{"i":139.52,"v":27.5},{"i":144.19,"v":23.6},{"i":150,"v":49.8}],
"cmo":[
{"i":-0.73,"v":60.5},{"i":3.95,"v":60.5},{"i":10.96,"v":56.5},{"i":13.3,"v":25.9},{"i":16.22,"v":-15},{"i":18.56,"v":5.5},{"i":20.9,"v":-0.6},{"i":23.23,"v":-29.2},{"i":26.74,"v":-29.2},{"i":27.91,"v":-15},{"i":30.83,"v":-35.6},{"i":33.17,"v":-25.4},{"i":36.09,"v":-0.6},{"i":40.18,"v":-25.4},{"i":43.69,"v":15.6},{"i":47.19,"v":25.9},{"i":51.28,"v":21.8},{"i":54.79,"v":21.8},{"i":56.54,"v":-25.4},{"i":60.05,"v":-5},{"i":63.55,"v":-31.7},{"i":67.06,"v":-45.8},{"i":70.57,"v":-45.8},{"i":74.07,"v":-25.4},{"i":78.75,"v":1.4},{"i":83.42,"v":21.8},{"i":88.1,"v":42.3},{"i":91.6,"v":60.5},{"i":93.94,"v":60.5},{"i":96.28,"v":5.5},{"i":99.78,"v":1.4},{"i":104.46,"v":1.4},{"i":106.8,"v":-10.8},{"i":109.72,"v":-25.4},{"i":110.89,"v":1.4},{"i":113.81,"v":-4.7},{"i":116.15,"v":15.6},{"i":120.82,"v":25.9},{"i":123.16,"v":32},{"i":126.66,"v":21.8},{"i":130.17,"v":1.4},{"i":132.51,"v":-10.8},{"i":135.43,"v":1.4},{"i":139.52,"v":-10.8},{"i":142.44,"v":-15},{"i":143.61,"v":-45.8},{"i":145.36,"v":-35.6},{"i":148.87,"v":-10.8},{"i":150,"v":-4.69}],
"rsi":[
{"i":-0.73,"v":71.6},{"i":2.2,"v":79.9},{"i":5.12,"v":75.8},{"i":7.45,"v":71.6},{"i":9.79,"v":78.3},{"i":11.55,"v":79.9},{"i":13.3,"v":67.4},{"i":15.64,"v":42.4},{"i":17.97,"v":46.6},{"i":20.3,"v":44.9},{"i":22.65,"v":38.3},{"i":24.99,"v":36.6},{"i":27.91,"v":44.9},{"i":30.83,"v":38.3},{"i":33.17,"v":40},{"i":35.5,"v":38.3},{"i":37.26,"v":46.6},{"i":40.76,"v":44.1},{"i":43.69,"v":54.9},{"i":46.61,"v":61.6},{"i":50.7,"v":56.6},{"i":54.2,"v":50.8},{"i":56.54,"v":31.6},{"i":58.88,"v":38.3},{"i":62.38,"v":32.4},{"i":65.89,"v":36.6},{"i":69.4,"v":36.6},{"i":71.15,"v":29.9},{"i":74.07,"v":40},{"i":77.58,"v":54.9},{"i":81.08,"v":53.3},{"i":85.76,"v":67.4},{"i":90.43,"v":65.8},{"i":93.36,"v":71.6},{"i":96.28,"v":42.4},{"i":100.95,"v":40},{"i":103.29,"v":46.6},{"i":106.8,"v":54.9},{"i":109.13,"v":44.9},{"i":110.89,"v":63.3},{"i":113.81,"v":60},{"i":116.15,"v":63.3},{"i":119.65,"v":54.9},{"i":124.32,"v":67.4},{"i":129.0,"v":44.9},{"i":132.51,"v":44.1},{"i":135.43,"v":54.9},{"i":139.52,"v":42.4},{"i":143.02,"v":36.6},{"i":144.78,"v":44.9},{"i":147.11,"v":50.8},{"i":148.87,"v":44.9},{"i":150,"v":50.58}],
"aroon":[
{"i":-0.96,"v":87.4,"k":"P"},{"i":10.38,"v":2.3,"k":"P"},{"i":10.73,"v":0,"k":"P"},{"i":11.9,"v":94.6,"k":"P"},{"i":26.15,"v":5.4,"k":"P"},{"i":27.91,"v":5.4,"k":"P"},{"i":30.01,"v":36.2,"k":"P"},{"i":32.0,"v":12.6,"k":"P"},{"i":34.34,"v":5.4,"k":"P"},{"i":37.84,"v":36.2,"k":"P"},{"i":39.6,"v":5.4,"k":"P"},{"i":43.1,"v":100,"k":"P"},{"i":46.61,"v":100,"k":"P"},{"i":60.05,"v":5.4,"k":"P"},{"i":62.38,"v":5.4,"k":"P"},{"i":63.55,"v":10.5,"k":"P"},{"i":64.72,"v":5.4,"k":"P"},{"i":71.73,"v":5.4,"k":"P"},{"i":74.07,"v":3.3,"k":"P"},{"i":76.41,"v":100,"k":"P"},{"i":78.75,"v":100,"k":"P"},{"i":82.25,"v":72,"k":"P"},{"i":84.0,"v":100,"k":"P"},{"i":90.43,"v":100,"k":"P"},{"i":92.77,"v":82.3,"k":"P"},{"i":93.94,"v":100,"k":"P"},{"i":107.96,"v":3.3,"k":"P"},{"i":109.72,"v":100,"k":"P"},{"i":119.65,"v":31,"k":"P"},{"i":122.57,"v":20.8,"k":"P"},{"i":123.74,"v":100,"k":"P"},{"i":137.18,"v":10.5,"k":"P"},{"i":138.93,"v":3.3,"k":"P"},{"i":141.86,"v":3.3,"k":"P"},{"i":143.61,"v":46.4,"k":"P"},{"i":146.53,"v":29,"k":"P"},{"i":148.87,"v":3.3,"k":"P"},{"i":150,"v":0,"k":"P"},
{"i":-0.96,"v":3.3,"k":"N"},{"i":3.95,"v":5.4,"k":"N"},{"i":7.45,"v":10.5,"k":"N"},{"i":9.79,"v":3.3,"k":"N"},{"i":12.7,"v":12.6,"k":"N"},{"i":14.47,"v":100,"k":"N"},{"i":16.22,"v":100,"k":"N"},{"i":21.48,"v":61.8,"k":"N"},{"i":22.65,"v":100,"k":"N"},{"i":24.99,"v":87.4,"k":"N"},{"i":30.83,"v":66.9,"k":"N"},{"i":33.17,"v":100,"k":"N"},{"i":43.69,"v":20.8,"k":"N"},{"i":48.36,"v":3.3,"k":"N"},{"i":50.7,"v":25.9,"k":"N"},{"i":54.2,"v":5.4,"k":"N"},{"i":56.54,"v":100,"k":"N"},{"i":60.05,"v":100,"k":"N"},{"i":67.06,"v":51.5,"k":"N"},{"i":69.4,"v":60,"k":"N"},{"i":70.57,"v":100,"k":"N"},{"i":78.75,"v":41.3,"k":"N"},{"i":85.76,"v":3.3,"k":"N"},{"i":89.26,"v":3.3,"k":"N"},{"i":90.43,"v":36.2,"k":"N"},{"i":92.77,"v":3.3,"k":"N"},{"i":96.28,"v":3.3,"k":"N"},{"i":97.45,"v":100,"k":"N"},{"i":99.2,"v":100,"k":"N"},{"i":101.54,"v":82.3,"k":"N"},{"i":103.87,"v":100,"k":"N"},{"i":109.13,"v":51.5,"k":"N"},{"i":118.48,"v":3.3,"k":"N"},{"i":119.65,"v":31,"k":"N"},{"i":121.99,"v":20.8,"k":"N"},{"i":123.16,"v":3.3,"k":"N"},{"i":124.91,"v":72,"k":"N"},{"i":125.49,"v":100,"k":"N"},{"i":129.0,"v":82.3,"k":"N"},{"i":130.75,"v":100,"k":"N"},{"i":134.26,"v":82.3,"k":"N"},{"i":136.01,"v":100,"k":"N"},{"i":138.93,"v":87.4,"k":"N"},{"i":141.27,"v":100,"k":"N"},{"i":150,"v":42.86,"k":"N"}],
"mh":[
{"i":-0.96,"v":0.53},{"i":1.61,"v":0.55},{"i":2.78,"v":0.62},{"i":6.29,"v":0.64},{"i":12.13,"v":0.62},{"i":13.3,"v":0.55},{"i":16.22,"v":0.29},{"i":19.14,"v":0.12},{"i":21.48,"v":-0.006},{"i":24.99,"v":-0.27},{"i":27.32,"v":-0.41},{"i":32.0,"v":-0.54},{"i":34.92,"v":-0.67},{"i":39.01,"v":-0.67},{"i":41.93,"v":-0.65},{"i":46.02,"v":-0.49},{"i":50.11,"v":-0.33},{"i":54.2,"v":-0.31},{"i":55.96,"v":-0.38},{"i":57.71,"v":-0.47},{"i":60.63,"v":-0.52},{"i":63.55,"v":-0.65},{"i":67.06,"v":-0.67},{"i":69.98,"v":-0.63},{"i":74.07,"v":-0.67},{"i":78.75,"v":-0.46},{"i":83.42,"v":-0.27},{"i":86.93,"v":-0.04},{"i":90.43,"v":0.21},{"i":94.52,"v":0.34},{"i":98.61,"v":0.19},{"i":102.71,"v":0.05},{"i":109.13,"v":0.05},{"i":113.81,"v":0.21},{"i":118.48,"v":0.26},{"i":123.16,"v":0.26},{"i":126.66,"v":0.40},{"i":130.17,"v":0.23},{"i":134.26,"v":0.13},{"i":136.01,"v":0.16},{"i":140.69,"v":-0.04},{"i":145.36,"v":-0.15},{"i":148.87,"v":-0.15},{"i":150,"v":-0.17}]
},
"vconcat":[
{"width":943,"height":407,
"layer":[
{"data":{"name":"c"},"mark":{"type":"rule","color":"#000000","strokeWidth":1},"encoding":{"x":{"field":"i","type":"quantitative","scale":{"domain":[-2.151,169.77],"nice":false,"zero":false,"padding":0},"axis":null},"y":{"field":"l","type":"quantitative","scale":{"domain":[73.2,92.31],"nice":false,"zero":false},"title":null,"axis":{"orient":"right","values":[74,75,76,77,78,79,80,81,82,83,84,85,86,87,88,89,90,91],"labelExpr":"indexof([74,78,84,86,88,90], datum.value) >= 0 ? '' + datum.value : ''","tickSize":5,"domainWidth":2,"labelPadding":2,"labelFontSize":{"condition":{"test":"datum.value == 90","value":15},"value":12},"labelFontWeight":{"condition":{"test":"datum.value == 90","value":"bold"},"value":"normal"}}},"y2":{"field":"h"}}},
{"data":{"name":"c"},"mark":{"type":"bar","size":5,"stroke":"#000000","strokeWidth":1},"encoding":{"x":{"field":"i","type":"quantitative","scale":{"domain":[-2.151,169.77],"nice":false,"zero":false,"padding":0},"axis":null},"y":{"field":"o","type":"quantitative","scale":{"domain":[73.2,92.31],"nice":false,"zero":false},"title":null},"y2":{"field":"c"},"fill":{"condition":{"test":"datum.c >= datum.o","value":"#ffffff"},"value":"#000000"}}},
{"data":{"name":"tl"},"mark":{"type":"rule","color":"#000000","strokeWidth":1},"encoding":{"x":{"field":"i","type":"quantitative","scale":{"domain":[-2.151,169.77],"nice":false,"zero":false,"padding":0},"axis":null},"y":{"field":"v","type":"quantitative","scale":{"domain":[73.2,92.31],"nice":false,"zero":false},"title":null},"x2":{"field":"i2"},"y2":{"field":"v2"}}},
{"data":{"name":"d50"},"mark":{"type":"line","color":"#E06666","strokeWidth":2,"strokeDash":[3,2]},"encoding":{"x":{"field":"i","type":"quantitative","scale":{"domain":[-2.151,169.77],"nice":false,"zero":false,"padding":0},"axis":null},"y":{"field":"v","type":"quantitative","scale":{"domain":[73.2,92.31],"nice":false,"zero":false},"title":null}}},
{"data":{"name":"st"},"mark":{"type":"line","strokeWidth":2.5},"encoding":{"x":{"field":"i","type":"quantitative","scale":{"domain":[-2.151,169.77],"nice":false,"zero":false,"padding":0},"axis":null},"y":{"field":"v","type":"quantitative","scale":{"domain":[73.2,92.31],"nice":false,"zero":false},"title":null},"color":{"field":"t","type":"nominal","scale":{"domain":["up","dn"],"range":["#55CC55","#E06666"]},"legend":null},"detail":{"field":"s"}}},
{"data":{"name":"d21"},"mark":{"type":"line","color":"#00C000","strokeWidth":2,"strokeDash":[3,2]},"encoding":{"x":{"field":"i","type":"quantitative","scale":{"domain":[-2.151,169.77],"nice":false,"zero":false,"padding":0},"axis":null},"y":{"field":"v","type":"quantitative","scale":{"domain":[73.2,92.31],"nice":false,"zero":false},"title":null}}},
{"data":{"name":"sar"},"mark":{"type":"point","shape":"square","filled":true,"size":22,"opacity":1},"encoding":{"x":{"field":"i","type":"quantitative","scale":{"domain":[-2.151,169.77],"nice":false,"zero":false,"padding":0},"axis":null},"y":{"field":"v","type":"quantitative","scale":{"domain":[73.2,92.31],"nice":false,"zero":false},"title":null},"color":{"field":"t","type":"nominal","scale":{"domain":["up","dn"],"range":["#55CC55","#E06666"]},"legend":null}}},
{"data":{"values":[{}]},"mark":{"type":"rule","color":"#000000","strokeWidth":1},"encoding":{"y":{"datum":91.7,"type":"quantitative","scale":{"domain":[73.2,92.31],"nice":false,"zero":false},"title":null}}},
{"data":{"values":[{}]},"mark":{"type":"text","text":"Kurs","align":"left","baseline":"middle","fontSize":10.5,"color":"#000000"},"encoding":{"x":{"datum":-1.79,"type":"quantitative","scale":{"domain":[-2.151,169.77],"nice":false,"zero":false,"padding":0},"axis":null},"y":{"datum":92.0,"type":"quantitative","scale":{"domain":[73.2,92.31],"nice":false,"zero":false},"title":null}}},
{"data":{"values":[{}]},"mark":{"type":"text","text":"Parab SAR (0,02 0,02 0,2)","align":"left","baseline":"middle","fontSize":10.5,"color":"#40C040"},"encoding":{"x":{"datum":4.23,"type":"quantitative","scale":{"domain":[-2.151,169.77],"nice":false,"zero":false,"padding":0},"axis":null},"y":{"datum":92.0,"type":"quantitative","scale":{"domain":[73.2,92.31],"nice":false,"zero":false},"title":null}}},
{"data":{"values":[{}]},"mark":{"type":"text","text":"SuperTrend (3 10)","align":"left","baseline":"middle","fontSize":10.5,"color":"#E06666"},"encoding":{"x":{"datum":28.66,"type":"quantitative","scale":{"domain":[-2.151,169.77],"nice":false,"zero":false,"padding":0},"axis":null},"y":{"datum":92.0,"type":"quantitative","scale":{"domain":[73.2,92.31],"nice":false,"zero":false},"title":null}}},
{"data":{"values":[{}]},"mark":{"type":"text","text":"DEMA (50)","align":"left","baseline":"middle","fontSize":10.5,"color":"#E06666"},"encoding":{"x":{"datum":46.16,"type":"quantitative","scale":{"domain":[-2.151,169.77],"nice":false,"zero":false,"padding":0},"axis":null},"y":{"datum":92.0,"type":"quantitative","scale":{"domain":[73.2,92.31],"nice":false,"zero":false},"title":null}}},
{"data":{"values":[{}]},"mark":{"type":"text","text":"DEMA (21)","align":"left","baseline":"middle","fontSize":10.5,"color":"#00C000"},"encoding":{"x":{"datum":57.47,"type":"quantitative","scale":{"domain":[-2.151,169.77],"nice":false,"zero":false,"padding":0},"axis":null},"y":{"datum":92.0,"type":"quantitative","scale":{"domain":[73.2,92.31],"nice":false,"zero":false},"title":null}}},
{"data":{"values":[{}]},"mark":{"type":"text","text":"www.ProRealTime.com","align":"left","baseline":"middle","fontSize":13,"fontWeight":"bold","color":"#000000"},"encoding":{"x":{"datum":-1.24,"type":"quantitative","scale":{"domain":[-2.151,169.77],"nice":false,"zero":false,"padding":0},"axis":null},"y":{"datum":92.83,"type":"quantitative","scale":{"domain":[73.2,92.31],"nice":false,"zero":false},"title":null}}},
{"data":{"values":[{}]},"mark":{"type":"text","text":"RWE - RWE AG ST O.N.","align":"left","baseline":"middle","fontSize":12,"fontWeight":"bold","color":"#000000"},"encoding":{"x":{"datum":72.18,"type":"quantitative","scale":{"domain":[-2.151,169.77],"nice":false,"zero":false,"padding":0},"axis":null},"y":{"datum":92.83,"type":"quantitative","scale":{"domain":[73.2,92.31],"nice":false,"zero":false},"title":null}}},
{"data":{"values":[{}]},"mark":{"type":"text","text":"79,70 (+0,81%)","align":"left","baseline":"middle","fontSize":12,"fontWeight":"bold","color":"#000000"},"encoding":{"x":{"datum":97.76,"type":"quantitative","scale":{"domain":[-2.151,169.77],"nice":false,"zero":false,"padding":0},"axis":null},"y":{"datum":92.83,"type":"quantitative","scale":{"domain":[73.2,92.31],"nice":false,"zero":false},"title":null}}},
{"data":{"values":[{}]},"mark":{"type":"text","text":"Täglich","align":"left","baseline":"middle","fontSize":12,"fontWeight":"bold","color":"#000000"},"encoding":{"x":{"datum":114.35,"type":"quantitative","scale":{"domain":[-2.151,169.77],"nice":false,"zero":false,"padding":0},"axis":null},"y":{"datum":92.83,"type":"quantitative","scale":{"domain":[73.2,92.31],"nice":false,"zero":false},"title":null}}},
{"data":{"values":[{}]},"mark":{"type":"text","text":"9 Jul","align":"left","baseline":"middle","fontSize":12,"fontWeight":"bold","color":"#000000"},"encoding":{"x":{"datum":122.92,"type":"quantitative","scale":{"domain":[-2.151,169.77],"nice":false,"zero":false,"padding":0},"axis":null},"y":{"datum":92.83,"type":"quantitative","scale":{"domain":[73.2,92.31],"nice":false,"zero":false},"title":null}}},
{"data":{"values":[{}]},"mark":{"type":"text","text":"© ProRealTime.com","align":"left","baseline":"middle","fontSize":12,"color":"#000000"},"encoding":{"x":{"datum":-1.79,"type":"quantitative","scale":{"domain":[-2.151,169.77],"nice":false,"zero":false,"padding":0},"axis":null},"y":{"datum":73.53,"type":"quantitative","scale":{"domain":[73.2,92.31],"nice":false,"zero":false},"title":null}}},
{"data":{"values":[{}]},"mark":{"type":"rect","fill":"#ffffff","stroke":"#000000","strokeWidth":1},"encoding":{"x":{"datum":170.68,"type":"quantitative","scale":{"domain":[-2.151,169.77],"nice":false,"zero":false,"padding":0},"axis":null},"x2":{"datum":177.43},"y":{"datum":82.17,"type":"quantitative","scale":{"domain":[73.2,92.31],"nice":false,"zero":false},"title":null},"y2":{"datum":81.32}}},
{"data":{"values":[{}]},"mark":{"type":"text","text":"81,747","align":"left","baseline":"middle","fontSize":11,"color":"#E06666"},"encoding":{"x":{"datum":171.0,"type":"quantitative","scale":{"domain":[-2.151,169.77],"nice":false,"zero":false,"padding":0},"axis":null},"y":{"datum":81.747,"type":"quantitative","scale":{"domain":[73.2,92.31],"nice":false,"zero":false},"title":null}}},
{"data":{"values":[{}]},"mark":{"type":"rect","fill":"#ffffff","stroke":"#000000","strokeWidth":1},"encoding":{"x":{"datum":170.68,"type":"quantitative","scale":{"domain":[-2.151,169.77],"nice":false,"zero":false,"padding":0},"axis":null},"x2":{"datum":177.43},"y":{"datum":80.08,"type":"quantitative","scale":{"domain":[73.2,92.31],"nice":false,"zero":false},"title":null},"y2":{"datum":79.24}}},
{"data":{"values":[{}]},"mark":{"type":"text","text":"79,628","align":"left","baseline":"middle","fontSize":11,"color":"#E06666"},"encoding":{"x":{"datum":171.0,"type":"quantitative","scale":{"domain":[-2.151,169.77],"nice":false,"zero":false,"padding":0},"axis":null},"y":{"datum":79.66,"type":"quantitative","scale":{"domain":[73.2,92.31],"nice":false,"zero":false},"title":null}}},
{"data":{"values":[{}]},"mark":{"type":"rect","fill":"#FFC000","stroke":"#000000","strokeWidth":1},"encoding":{"x":{"datum":170.86,"type":"quantitative","scale":{"domain":[-2.151,169.77],"nice":false,"zero":false,"padding":0},"axis":null},"x2":{"datum":175.24},"y":{"datum":80.1,"type":"quantitative","scale":{"domain":[73.2,92.31],"nice":false,"zero":false},"title":null},"y2":{"datum":79.26}}},
{"data":{"values":[{}]},"mark":{"type":"text","text":"79,7","align":"left","baseline":"middle","fontSize":12,"color":"#000000"},"encoding":{"x":{"datum":171.1,"type":"quantitative","scale":{"domain":[-2.151,169.77],"nice":false,"zero":false,"padding":0},"axis":null},"y":{"datum":79.68,"type":"quantitative","scale":{"domain":[73.2,92.31],"nice":false,"zero":false},"title":null}}},
{"data":{"values":[{}]},"mark":{"type":"rect","fill":"#ffffff","stroke":"#000000","strokeWidth":1},"encoding":{"x":{"datum":170.68,"type":"quantitative","scale":{"domain":[-2.151,169.77],"nice":false,"zero":false,"padding":0},"axis":null},"x2":{"datum":177.43},"y":{"datum":79.07,"type":"quantitative","scale":{"domain":[73.2,92.31],"nice":false,"zero":false},"title":null},"y2":{"datum":78.23}}},
{"data":{"values":[{}]},"mark":{"type":"text","text":"78,658","align":"left","baseline":"middle","fontSize":11,"color":"#33BB33"},"encoding":{"x":{"datum":171.0,"type":"quantitative","scale":{"domain":[-2.151,169.77],"nice":false,"zero":false,"padding":0},"axis":null},"y":{"datum":78.65,"type":"quantitative","scale":{"domain":[73.2,92.31],"nice":false,"zero":false},"title":null}}},
{"data":{"values":[{}]},"mark":{"type":"rect","fill":"#ffffff","stroke":"#000000","strokeWidth":1},"encoding":{"x":{"datum":170.68,"type":"quantitative","scale":{"domain":[-2.151,169.77],"nice":false,"zero":false,"padding":0},"axis":null},"x2":{"datum":177.43},"y":{"datum":76.79,"type":"quantitative","scale":{"domain":[73.2,92.31],"nice":false,"zero":false},"title":null},"y2":{"datum":75.95}}},
{"data":{"values":[{}]},"mark":{"type":"text","text":"76,368","align":"left","baseline":"middle","fontSize":11,"color":"#33BB33"},"encoding":{"x":{"datum":171.0,"type":"quantitative","scale":{"domain":[-2.151,169.77],"nice":false,"zero":false,"padding":0},"axis":null},"y":{"datum":76.37,"type":"quantitative","scale":{"domain":[73.2,92.31],"nice":false,"zero":false},"title":null}}}
]},
{"width":943,"height":46,
"layer":[
{"data":{"name":"hist"},"mark":{"type":"bar","size":4,"strokeWidth":1},"encoding":{"x":{"field":"i","type":"quantitative","scale":{"domain":[-2.151,169.77],"nice":false,"zero":false,"padding":0},"axis":null},"y":{"field":"v","type":"quantitative","scale":{"domain":[-1.142,2.692],"nice":false,"zero":false},"title":null,"axis":{"orient":"right","values":[1.19,-0.73],"labelExpr":"''","tickSize":5,"domainWidth":2}},"y2":{"datum":0},"fill":{"condition":{"test":"datum.v >= 0","value":"#3C9C3C"},"value":"#C04A4A"},"stroke":{"condition":{"test":"datum.v >= 0","value":"#2E7D2E"},"value":"#A03535"}}},
{"data":{"values":[{}]},"mark":{"type":"rule","color":"#2828DC","strokeWidth":1.5},"encoding":{"y":{"datum":0,"type":"quantitative","scale":{"domain":[-1.142,2.692],"nice":false,"zero":false},"title":null}}},
{"data":{"name":"macd"},"mark":{"type":"line","strokeWidth":1.5},"encoding":{"x":{"field":"i","type":"quantitative","scale":{"domain":[-2.151,169.77],"nice":false,"zero":false,"padding":0},"axis":null},"y":{"field":"v","type":"quantitative","scale":{"domain":[-1.142,2.692],"nice":false,"zero":false},"title":null},"color":{"field":"k","type":"nominal","scale":{"domain":["M","S"],"range":["#22DD22","#E06666"]},"legend":null}}},
{"data":{"values":[{}]},"mark":{"type":"rule","color":"#000000","strokeWidth":1},"encoding":{"y":{"datum":1.608,"type":"quantitative","scale":{"domain":[-1.142,2.692],"nice":false,"zero":false},"title":null}}},
{"data":{"values":[{}]},"mark":{"type":"text","text":"MACD-Signal Signal MACD (16)","align":"left","baseline":"middle","fontSize":10.5,"color":"#E06666"},"encoding":{"x":{"datum":-1.6,"type":"quantitative","scale":{"domain":[-2.151,169.77],"nice":false,"zero":false,"padding":0},"axis":null},"y":{"datum":2.19,"type":"quantitative","scale":{"domain":[-1.142,2.692],"nice":false,"zero":false},"title":null}}},
{"data":{"values":[{}]},"mark":{"type":"rect","fill":"#ffffff","stroke":"#000000","strokeWidth":1},"encoding":{"x":{"datum":171.6,"type":"quantitative","scale":{"domain":[-2.151,169.77],"nice":false,"zero":false,"padding":0},"axis":null},"x2":{"datum":178.2},"y":{"datum":0.75,"type":"quantitative","scale":{"domain":[-1.142,2.692],"nice":false,"zero":false},"title":null},"y2":{"datum":-0.75}}},
{"data":{"values":[{}]},"mark":{"type":"text","text":"-0,032","align":"left","baseline":"middle","fontSize":11,"color":"#E06666"},"encoding":{"x":{"datum":171.9,"type":"quantitative","scale":{"domain":[-2.151,169.77],"nice":false,"zero":false,"padding":0},"axis":null},"y":{"datum":0.0,"type":"quantitative","scale":{"domain":[-1.142,2.692],"nice":false,"zero":false},"title":null}}}
]},
{"width":943,"height":42,
"layer":[
{"data":{"values":[{"v":80},{"v":20}]},"mark":{"type":"rule","color":"#2828DC","strokeWidth":1.5},"encoding":{"y":{"field":"v","type":"quantitative","scale":{"domain":[-6.27,158.4],"nice":false,"zero":false},"title":null,"axis":{"orient":"right","values":[80,20],"labelExpr":"datum.value == 20 ? '20' : ''","labelColor":"#2828DC","tickSize":5,"domainWidth":2}}}},
{"data":{"name":"sd"},"mark":{"type":"line","color":"#E06666","strokeWidth":1,"strokeDash":[2,2]},"encoding":{"x":{"field":"i","type":"quantitative","scale":{"domain":[-2.151,169.77],"nice":false,"zero":false,"padding":0},"axis":null},"y":{"field":"v","type":"quantitative","scale":{"domain":[-6.27,158.4],"nice":false,"zero":false},"title":null}}},
{"data":{"name":"sk"},"transform":[{"window":[{"op":"lead","field":"i","as":"i2"},{"op":"lead","field":"v","as":"v2"}],"sort":[{"field":"i","order":"ascending"}]},{"filter":"datum.i2 != null"}],"mark":{"type":"rule","strokeWidth":1.5},"encoding":{"x":{"field":"i","type":"quantitative","scale":{"domain":[-2.151,169.77],"nice":false,"zero":false,"padding":0},"axis":null},"x2":{"field":"i2"},"y":{"field":"v","type":"quantitative","scale":{"domain":[-6.27,158.4],"nice":false,"zero":false},"title":null},"y2":{"field":"v2"},"color":{"condition":{"test":"datum.v2 >= datum.v","value":"#00DD00"},"value":"#EE0000"}}},
{"data":{"values":[{}]},"mark":{"type":"rule","color":"#000000","strokeWidth":1},"encoding":{"y":{"datum":115.3,"type":"quantitative","scale":{"domain":[-6.27,158.4],"nice":false,"zero":false},"title":null}}},
{"data":{"values":[{}]},"mark":{"type":"text","text":"Stoch %K","align":"left","baseline":"middle","fontSize":10.5,"color":"#22CC22"},"encoding":{"x":{"datum":-1.6,"type":"quantitative","scale":{"domain":[-2.151,169.77],"nice":false,"zero":false,"padding":0},"axis":null},"y":{"datum":134.9,"type":"quantitative","scale":{"domain":[-6.27,158.4],"nice":false,"zero":false},"title":null}}},
{"data":{"values":[{}]},"mark":{"type":"text","text":"Stoch %D (12 3 5)","align":"left","baseline":"middle","fontSize":10.5,"color":"#E06666"},"encoding":{"x":{"datum":7.7,"type":"quantitative","scale":{"domain":[-2.151,169.77],"nice":false,"zero":false,"padding":0},"axis":null},"y":{"datum":134.9,"type":"quantitative","scale":{"domain":[-6.27,158.4],"nice":false,"zero":false},"title":null}}},
{"data":{"values":[{}]},"mark":{"type":"rect","fill":"#ffffff","stroke":"#000000","strokeWidth":1},"encoding":{"x":{"datum":171.6,"type":"quantitative","scale":{"domain":[-2.151,169.77],"nice":false,"zero":false,"padding":0},"axis":null},"x2":{"datum":178.2},"y":{"datum":111.4,"type":"quantitative","scale":{"domain":[-6.27,158.4],"nice":false,"zero":false},"title":null},"y2":{"datum":52.5}}},
{"data":{"values":[{}]},"mark":{"type":"text","text":"66,404","align":"left","baseline":"middle","fontSize":11,"color":"#33BB33"},"encoding":{"x":{"datum":171.9,"type":"quantitative","scale":{"domain":[-2.151,169.77],"nice":false,"zero":false,"padding":0},"axis":null},"y":{"datum":82,"type":"quantitative","scale":{"domain":[-6.27,158.4],"nice":false,"zero":false},"title":null}}}
]},
{"width":943,"height":49,
"layer":[
{"data":{"values":[{"v":50},{"v":-50}]},"mark":{"type":"rule","color":"#2828DC","strokeWidth":1.5},"encoding":{"y":{"field":"v","type":"quantitative","scale":{"domain":[-109.2,191.4],"nice":false,"zero":false},"title":null,"axis":{"orient":"right","values":[50,-50],"labelExpr":"''","tickSize":5,"domainWidth":2}}}},
{"data":{"name":"cmo"},"transform":[{"window":[{"op":"lead","field":"i","as":"i2"},{"op":"lead","field":"v","as":"v2"}],"sort":[{"field":"i","order":"ascending"}]},{"filter":"datum.i2 != null"}],"mark":{"type":"rule","strokeWidth":1.5},"encoding":{"x":{"field":"i","type":"quantitative","scale":{"domain":[-2.151,169.77],"nice":false,"zero":false,"padding":0},"axis":null},"x2":{"field":"i2"},"y":{"field":"v","type":"quantitative","scale":{"domain":[-109.2,191.4],"nice":false,"zero":false},"title":null},"y2":{"field":"v2"},"color":{"condition":{"test":"datum.v2 >= datum.v","value":"#00DD00"},"value":"#EE0000"}}},
{"data":{"values":[{}]},"mark":{"type":"rule","color":"#000000","strokeWidth":1},"encoding":{"y":{"datum":111.7,"type":"quantitative","scale":{"domain":[-109.2,191.4],"nice":false,"zero":false},"title":null}}},
{"data":{"values":[{}]},"mark":{"type":"text","text":"Chande Mom Osc (20)","align":"left","baseline":"middle","fontSize":10.5,"color":"#22CC22"},"encoding":{"x":{"datum":-1.6,"type":"quantitative","scale":{"domain":[-2.151,169.77],"nice":false,"zero":false,"padding":0},"axis":null},"y":{"datum":151.5,"type":"quantitative","scale":{"domain":[-109.2,191.4],"nice":false,"zero":false},"title":null}}},
{"data":{"values":[{}]},"mark":{"type":"rect","fill":"#ffffff","stroke":"#000000","strokeWidth":1},"encoding":{"x":{"datum":171.6,"type":"quantitative","scale":{"domain":[-2.151,169.77],"nice":false,"zero":false,"padding":0},"axis":null},"x2":{"datum":178.8},"y":{"datum":47.3,"type":"quantitative","scale":{"domain":[-109.2,191.4],"nice":false,"zero":false},"title":null},"y2":{"datum":-56.7}}},
{"data":{"values":[{}]},"mark":{"type":"text","text":"-4,6875","align":"left","baseline":"middle","fontSize":11,"color":"#33BB33"},"encoding":{"x":{"datum":171.9,"type":"quantitative","scale":{"domain":[-2.151,169.77],"nice":false,"zero":false,"padding":0},"axis":null},"y":{"datum":-4.69,"type":"quantitative","scale":{"domain":[-109.2,191.4],"nice":false,"zero":false},"title":null}}}
]},
{"width":943,"height":61,
"layer":[
{"data":{"values":[{"v":70},{"v":30}]},"mark":{"type":"rule","color":"#2828DC","strokeWidth":1.5},"encoding":{"y":{"field":"v","type":"quantitative","scale":{"domain":[-9.25,143.25],"nice":false,"zero":false},"title":null,"axis":{"orient":"right","values":[100,70,30,0],"labelExpr":"datum.value == 100 ? '100' : datum.value == 0 ? '0' : ''","tickSize":5,"domainWidth":2}}}},
{"data":{"name":"rsi"},"transform":[{"window":[{"op":"lead","field":"i","as":"i2"},{"op":"lead","field":"v","as":"v2"}],"sort":[{"field":"i","order":"ascending"}]},{"filter":"datum.i2 != null"}],"mark":{"type":"rule","strokeWidth":1.5},"encoding":{"x":{"field":"i","type":"quantitative","scale":{"domain":[-2.151,169.77],"nice":false,"zero":false,"padding":0},"axis":null},"x2":{"field":"i2"},"y":{"field":"v","type":"quantitative","scale":{"domain":[-9.25,143.25],"nice":false,"zero":false},"title":null},"y2":{"field":"v2"},"color":{"condition":{"test":"datum.v2 >= datum.v","value":"#00DD00"},"value":"#EE0000"}}},
{"data":{"values":[{}]},"mark":{"type":"rule","color":"#000000","strokeWidth":1},"encoding":{"y":{"datum":108.25,"type":"quantitative","scale":{"domain":[-9.25,143.25],"nice":false,"zero":false},"title":null}}},
{"data":{"values":[{}]},"mark":{"type":"text","text":"RSI (14)","align":"left","baseline":"middle","fontSize":10.5,"color":"#22CC22"},"encoding":{"x":{"datum":-1.6,"type":"quantitative","scale":{"domain":[-2.151,169.77],"nice":false,"zero":false,"padding":0},"axis":null},"y":{"datum":126,"type":"quantitative","scale":{"domain":[-9.25,143.25],"nice":false,"zero":false},"title":null}}},
{"data":{"values":[{}]},"mark":{"type":"rect","fill":"#ffffff","stroke":"#000000","strokeWidth":1},"encoding":{"x":{"datum":171.6,"type":"quantitative","scale":{"domain":[-2.151,169.77],"nice":false,"zero":false,"padding":0},"axis":null},"x2":{"datum":178.2},"y":{"datum":70.75,"type":"quantitative","scale":{"domain":[-9.25,143.25],"nice":false,"zero":false},"title":null},"y2":{"datum":33.25}}},
{"data":{"values":[{}]},"mark":{"type":"text","text":"50,578","align":"left","baseline":"middle","fontSize":11,"color":"#33BB33"},"encoding":{"x":{"datum":171.9,"type":"quantitative","scale":{"domain":[-2.151,169.77],"nice":false,"zero":false,"padding":0},"axis":null},"y":{"datum":51.5,"type":"quantitative","scale":{"domain":[-9.25,143.25],"nice":false,"zero":false},"title":null}}}
]},
{"width":943,"height":51,
"layer":[
{"data":{"values":[{"v":70},{"v":30}]},"mark":{"type":"rule","color":"#2828DC","strokeWidth":1.5},"encoding":{"y":{"field":"v","type":"quantitative","scale":{"domain":[-8.0,148.9],"nice":false,"zero":false},"title":null,"axis":{"orient":"right","values":[100,70,30,0],"labelExpr":"datum.value == 30 ? '' : '' + datum.value","labelColor":{"condition":{"test":"datum.value == 70 || datum.value == 0","value":"#2828DC"},"value":"#000000"},"tickSize":5,"domainWidth":2}}}},
{"data":{"name":"aroon"},"mark":{"type":"line","strokeWidth":1},"encoding":{"x":{"field":"i","type":"quantitative","scale":{"domain":[-2.151,169.77],"nice":false,"zero":false,"padding":0},"axis":null},"y":{"field":"v","type":"quantitative","scale":{"domain":[-8.0,148.9],"nice":false,"zero":false},"title":null},"color":{"field":"k","type":"nominal","scale":{"domain":["P","N"],"range":["#2222DD","#E06666"]},"legend":null}}},
{"data":{"values":[{}]},"mark":{"type":"rule","color":"#000000","strokeWidth":1},"encoding":{"y":{"datum":108.9,"type":"quantitative","scale":{"domain":[-8.0,148.9],"nice":false,"zero":false},"title":null}}},
{"data":{"values":[{}]},"mark":{"type":"text","text":"Aroon+","align":"left","baseline":"middle","fontSize":10.5,"color":"#2222DD"},"encoding":{"x":{"datum":-1.6,"type":"quantitative","scale":{"domain":[-2.151,169.77],"nice":false,"zero":false,"padding":0},"axis":null},"y":{"datum":127.4,"type":"quantitative","scale":{"domain":[-8.0,148.9],"nice":false,"zero":false},"title":null}}},
{"data":{"values":[{}]},"mark":{"type":"text","text":"Aroon- (14)","align":"left","baseline":"middle","fontSize":10.5,"color":"#E06666"},"encoding":{"x":{"datum":5.3,"type":"quantitative","scale":{"domain":[-2.151,169.77],"nice":false,"zero":false,"padding":0},"axis":null},"y":{"datum":127.4,"type":"quantitative","scale":{"domain":[-8.0,148.9],"nice":false,"zero":false},"title":null}}},
{"data":{"values":[{}]},"mark":{"type":"rect","fill":"#ffffff","stroke":"#000000","strokeWidth":1},"encoding":{"x":{"datum":172.2,"type":"quantitative","scale":{"domain":[-2.151,169.77],"nice":false,"zero":false,"padding":0},"axis":null},"x2":{"datum":178.6},"y":{"datum":66,"type":"quantitative","scale":{"domain":[-8.0,148.9],"nice":false,"zero":false},"title":null},"y2":{"datum":18}}},
{"data":{"values":[{}]},"mark":{"type":"text","text":"42,857","align":"left","baseline":"middle","fontSize":11,"color":"#E06666"},"encoding":{"x":{"datum":172.5,"type":"quantitative","scale":{"domain":[-2.151,169.77],"nice":false,"zero":false,"padding":0},"axis":null},"y":{"datum":42,"type":"quantitative","scale":{"domain":[-8.0,148.9],"nice":false,"zero":false},"title":null}}}
]},
{"width":943,"height":59,
"layer":[
{"data":{"name":"mh"},"transform":[{"window":[{"op":"lead","field":"i","as":"i2"},{"op":"lead","field":"v","as":"v2"}],"sort":[{"field":"i","order":"ascending"}]},{"filter":"datum.i2 != null"}],"mark":{"type":"rule","strokeWidth":1.5},"encoding":{"x":{"field":"i","type":"quantitative","scale":{"domain":[-2.151,169.77],"nice":false,"zero":false,"padding":0},"title":null,"axis":{"orient":"bottom","values":[1,20,42,62,84,103,125,145.5,168],"labelExpr":"datum.value < 10 ? 'Dez' : datum.value < 30 ? '2007' : datum.value < 50 ? 'Feb' : datum.value < 70 ? 'Mär' : datum.value < 90 ? 'Apr' : datum.value < 110 ? 'Mai' : datum.value < 135 ? 'Jun' : datum.value < 155 ? 'Jul' : 'Aug'","tickSize":6,"domain":false,"labelPadding":3,"labelOverlap":false,"labelFlush":false,"labelFontSize":{"condition":{"test":"datum.value > 10 && datum.value < 30","value":13},"value":12},"labelFontWeight":{"condition":{"test":"datum.value > 10 && datum.value < 30","value":"bold"},"value":"normal"}}},"x2":{"field":"i2"},"y":{"field":"v","type":"quantitative","scale":{"domain":[-0.79,1.113],"nice":false,"zero":false},"title":null,"axis":{"orient":"right","values":[0.5,0,-0.5],"labelExpr":"datum.value == 0.5 ? '0,5' : datum.value == -0.5 ? '-0,5' : ''","tickSize":5,"domainWidth":2}},"y2":{"field":"v2"},"color":{"condition":{"test":"datum.v2 >= datum.v","value":"#00DD00"},"value":"#EE0000"}}},
{"data":{"values":[{}]},"mark":{"type":"rule","color":"#000000","strokeWidth":1},"encoding":{"y":{"datum":0.726,"type":"quantitative","scale":{"domain":[-0.79,1.113],"nice":false,"zero":false},"title":null}}},
{"data":{"values":[{}]},"mark":{"type":"text","text":"MACD Histogram (30 64 43)","align":"left","baseline":"middle","fontSize":10.5,"color":"#22CC22"},"encoding":{"x":{"datum":-1.6,"type":"quantitative","scale":{"domain":[-2.151,169.77],"nice":false,"zero":false,"padding":0},"title":null},"y":{"datum":0.919,"type":"quantitative","scale":{"domain":[-0.79,1.113],"nice":false,"zero":false},"title":null}}},
{"data":{"values":[{}]},"mark":{"type":"rect","fill":"#ffffff","stroke":"#000000","strokeWidth":1},"encoding":{"x":{"datum":171.6,"type":"quantitative","scale":{"domain":[-2.151,169.77],"nice":false,"zero":false,"padding":0},"title":null},"x2":{"datum":178.8},"y":{"datum":0.09,"type":"quantitative","scale":{"domain":[-0.79,1.113],"nice":false,"zero":false},"title":null},"y2":{"datum":-0.43}}},
{"data":{"values":[{}]},"mark":{"type":"text","text":"-0,1717","align":"left","baseline":"middle","fontSize":11,"color":"#33BB33"},"encoding":{"x":{"datum":171.9,"type":"quantitative","scale":{"domain":[-2.151,169.77],"nice":false,"zero":false,"padding":0},"title":null},"y":{"datum":-0.17,"type":"quantitative","scale":{"domain":[-0.79,1.113],"nice":false,"zero":false},"title":null}}}
]}
]
}
